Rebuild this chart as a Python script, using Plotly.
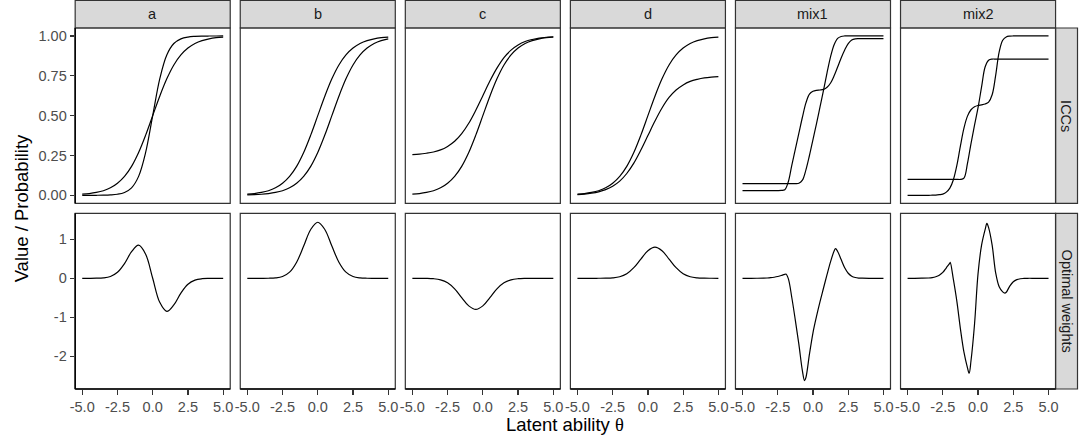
import plotly.graph_objects as go

# ---------------- data ----------------
item_labels = ["a", "b", "c", "d", "mix1", "mix2"]
row_labels = ["ICCs", "Optimal weights"]

theta_half = [-5.0, -4.5, -4.0, -3.5, -3.0, -2.5, -2.0, -1.5, -1.0, -0.5, 0.0,
              0.5, 1.0, 1.5, 2.0, 2.5, 3.0, 3.5, 4.0, 4.5, 5.0]
theta_quarter = [-5.0, -4.75, -4.5, -4.25, -4.0, -3.75, -3.5, -3.25, -3.0, -2.75,
                 -2.5, -2.25, -2.0, -1.75, -1.5, -1.25, -1.0, -0.75, -0.5, -0.25,
                 0.0, 0.25, 0.5, 0.75, 1.0, 1.25, 1.5, 1.75, 2.0, 2.25, 2.5, 2.75,
                 3.0, 3.25, 3.5, 3.75, 4.0, 4.25, 4.5, 4.75, 5.0]

icc_a_1 = [0.007, 0.011, 0.018, 0.029, 0.047, 0.076, 0.119, 0.182, 0.269, 0.378, 0.5,
           0.622, 0.731, 0.818, 0.881, 0.924, 0.953, 0.971, 0.982, 0.989, 0.993]
icc_a_2 = [0.0, 0.0001, 0.0003, 0.0009, 0.0025, 0.0067, 0.018, 0.047, 0.119, 0.269, 0.5,
           0.731, 0.881, 0.953, 0.982, 0.9933, 0.9975, 0.9991, 0.9997, 0.9999, 1.0]
icc_b_1 = [0.007, 0.011, 0.018, 0.029, 0.047, 0.076, 0.119, 0.182, 0.269, 0.378, 0.5,
           0.622, 0.731, 0.818, 0.881, 0.924, 0.953, 0.971, 0.982, 0.989, 0.993]
icc_b_2 = [0.0025, 0.0041, 0.0067, 0.011, 0.018, 0.029, 0.047, 0.076, 0.119, 0.182, 0.269,
           0.378, 0.5, 0.622, 0.731, 0.818, 0.881, 0.924, 0.953, 0.971, 0.982]
icc_c_1 = [0.255, 0.258, 0.264, 0.272, 0.285, 0.307, 0.339, 0.387, 0.452, 0.534, 0.625,
           0.717, 0.798, 0.864, 0.911, 0.943, 0.965, 0.978, 0.987, 0.992, 0.995]
icc_c_2 = [0.007, 0.011, 0.018, 0.029, 0.047, 0.076, 0.119, 0.182, 0.269, 0.378, 0.5,
           0.622, 0.731, 0.818, 0.881, 0.924, 0.953, 0.971, 0.982, 0.989, 0.993]
icc_d_1 = [0.007, 0.011, 0.018, 0.029, 0.047, 0.076, 0.119, 0.182, 0.269, 0.378, 0.5,
           0.622, 0.731, 0.818, 0.881, 0.924, 0.953, 0.971, 0.982, 0.989, 0.993]
icc_d_2 = [0.005, 0.008, 0.0135, 0.022, 0.0355, 0.057, 0.089, 0.137, 0.202, 0.284, 0.375,
           0.466, 0.548, 0.614, 0.661, 0.693, 0.715, 0.728, 0.737, 0.742, 0.745]

icc_mix1_1 = [0.03, 0.03, 0.03, 0.03, 0.03, 0.03, 0.03, 0.03, 0.03, 0.03,
              0.03, 0.031, 0.035, 0.085, 0.19, 0.29, 0.39, 0.49, 0.58, 0.635,
              0.653, 0.659, 0.661, 0.665, 0.678, 0.705, 0.75, 0.805, 0.862, 0.912,
              0.952, 0.975, 0.982, 0.983, 0.983, 0.983, 0.983, 0.983, 0.983, 0.983, 0.983]
icc_mix1_2 = [0.074, 0.074, 0.074, 0.074, 0.074, 0.074, 0.074, 0.074, 0.074, 0.074,
              0.074, 0.074, 0.074, 0.074, 0.074, 0.074, 0.076, 0.095, 0.16, 0.25,
              0.35, 0.45, 0.555, 0.66, 0.77, 0.87, 0.945, 0.985, 0.997, 1.0,
              1.0, 1.0, 1.0, 1.0, 1.0, 1.0, 1.0, 1.0, 1.0, 1.0, 1.0]
icc_mix2_1 = [0.0, 0.0, 0.0, 0.0, 0.0, 0.0, 0.0, 0.001, 0.0015, 0.004,
              0.008, 0.02, 0.045, 0.098, 0.189, 0.31, 0.422, 0.497, 0.537, 0.556,
              0.564, 0.568, 0.573, 0.585, 0.631, 0.753, 0.9, 0.973, 0.994, 0.999,
              1.0, 1.0, 1.0, 1.0, 1.0, 1.0, 1.0, 1.0, 1.0, 1.0, 1.0]
icc_mix2_2 = [0.1, 0.1, 0.1, 0.1, 0.1, 0.1, 0.1, 0.1, 0.1, 0.1,
              0.1, 0.1, 0.1, 0.1, 0.1, 0.1, 0.108, 0.2, 0.325, 0.44,
              0.55, 0.68, 0.805, 0.848, 0.855, 0.855, 0.855, 0.855, 0.855, 0.855,
              0.855, 0.855, 0.855, 0.855, 0.855, 0.855, 0.855, 0.855, 0.855, 0.855, 0.855]

w_a = [0.0, 0.0003, 0.002, 0.011, 0.047, 0.154, 0.379, 0.683, 0.85, 0.618, 0.0,
       -0.618, -0.85, -0.683, -0.379, -0.154, -0.047, -0.011, -0.002, -0.0003, 0.0]
w_b = [0.0, 0.0, 0.0002, 0.0016, 0.0098, 0.045, 0.157, 0.414, 0.827, 1.254, 1.44,
       1.254, 0.827, 0.414, 0.157, 0.045, 0.0098, 0.0016, 0.0002, 0.0, 0.0]
w_c = [0.0, -0.0004, -0.002, -0.011, -0.040, -0.117, -0.272, -0.495, -0.709, -0.80, -0.709,
       -0.495, -0.272, -0.117, -0.040, -0.011, -0.002, -0.0004, 0.0, 0.0, 0.0]
w_d = [0.0, 0.0, 0.0, 0.0004, 0.002, 0.011, 0.040, 0.117, 0.272, 0.495, 0.709,
       0.80, 0.709, 0.495, 0.272, 0.117, 0.040, 0.011, 0.002, 0.0004, 0.0]

theta_w_mix1 = [-5.0, -4.5, -4.0, -3.5, -3.25, -3.0, -2.75, -2.5, -2.25, -2.0,
                -1.92, -1.75, -1.5, -1.25, -1.0, -0.75, -0.6, -0.5, -0.25, 0.0,
                0.25, 0.5, 0.75, 1.0, 1.25, 1.5, 1.6, 1.75, 2.0, 2.25,
                2.5, 2.75, 3.0, 3.25, 3.5, 4.0, 4.5, 5.0]
w_mix1 = [0.0, 0.0, 0.001, 0.004, 0.008, 0.015, 0.027, 0.045, 0.072, 0.1,
          0.11, -0.01, -0.5, -1.08, -1.7, -2.38, -2.63, -2.55, -1.95, -1.4,
          -0.98, -0.6, -0.25, 0.1, 0.43, 0.7, 0.76, 0.69, 0.48, 0.27,
          0.13, 0.055, 0.02, 0.006, 0.002, 0.0, 0.0, 0.0]

theta_w_mix2 = [-5.0, -4.5, -4.0, -3.5, -3.25, -3.0, -2.75, -2.5, -2.25, -2.0,
                -1.97, -1.75, -1.5, -1.25, -1.0, -0.75, -0.63, -0.5, -0.25, 0.0,
                0.25, 0.5, 0.63, 0.75, 1.0, 1.25, 1.5, 1.75, 1.9, 2.0,
                2.25, 2.5, 2.75, 3.0, 3.25, 3.5, 4.0, 4.5, 5.0]
w_mix2 = [0.0, 0.0, 0.002, 0.008, 0.018, 0.04, 0.08, 0.15, 0.27, 0.39,
          0.41, -0.03, -0.6, -1.3, -1.9, -2.3, -2.44, -2.12, -1.18, 0.12,
          0.85, 1.25, 1.41, 1.3, 0.85, 0.14, -0.22, -0.35, -0.38, -0.36,
          -0.2, -0.09, -0.035, -0.012, -0.004, 0.0, 0.0, 0.0, 0.0]

x_tickvals = [-5, -2.5, 0, 2.5, 5]
x_ticktext = ["-5.0", "-2.5", "0.0", "2.5", "5.0"]
icc_tickvals = [0, 0.25, 0.5, 0.75, 1.0]
icc_ticktext = ["0.00", "0.25", "0.50", "0.75", "1.00"]
w_tickvals = [-2, -1, 0, 1]
w_ticktext = ["-2", "-1", "0", "1"]

# panel contents: (row, col) -> list of (theta, values)
panels = {
    (0, 0): [(theta_half, icc_a_1), (theta_half, icc_a_2)],
    (0, 1): [(theta_half, icc_b_1), (theta_half, icc_b_2)],
    (0, 2): [(theta_half, icc_c_1), (theta_half, icc_c_2)],
    (0, 3): [(theta_half, icc_d_1), (theta_half, icc_d_2)],
    (0, 4): [(theta_quarter, icc_mix1_1), (theta_quarter, icc_mix1_2)],
    (0, 5): [(theta_quarter, icc_mix2_1), (theta_quarter, icc_mix2_2)],
    (1, 0): [(theta_half, w_a)],
    (1, 1): [(theta_half, w_b)],
    (1, 2): [(theta_half, w_c)],
    (1, 3): [(theta_half, w_d)],
    (1, 4): [(theta_w_mix1, w_mix1)],
    (1, 5): [(theta_w_mix2, w_mix2)],
}

# ---------------- geometry (pixels) ----------------
W, H = 1081, 439
panel_w = 156.2
col_left = [70.7, 237.0, 403.3, 569.6, 735.9, 902.2]
row_top = [28.0, 213.3]
row_bot = [203.3, 389.0]
strip_top = 0.5
strip_right = 1080.5
y_ranges = [[-0.05, 1.05], [-2.845, 1.67]]
x_range = [-5.5, 5.5]

FONT = "Liberation Sans, Arial, sans-serif"
BORDER = "#333333"


def fx(px):
    return px / W


def fy(py):
    return 1 - py / H


fig = go.Figure()
layout = {}
shapes = []
annotations = []

for (r, c), series in panels.items():
    n = r * 6 + c + 1
    xs = "x" if n == 1 else f"x{n}"
    ys = "y" if n == 1 else f"y{n}"
    for th, vals in series:
        fig.add_trace(go.Scatter(
            x=th, y=vals, xaxis=xs, yaxis=ys, mode="lines",
            line=dict(color="black", width=1.2, shape="spline", smoothing=1.0),
            showlegend=False, hoverinfo="skip"))
    x0, x1 = col_left[c], col_left[c] + panel_w
    y0, y1 = row_top[r], row_bot[r]
    xkey = "xaxis" if n == 1 else f"xaxis{n}"
    ykey = "yaxis" if n == 1 else f"yaxis{n}"
    layout[xkey] = dict(
        domain=[fx(x0), fx(x1)], range=x_range, anchor=ys,
        showgrid=False, zeroline=False, showline=False,
        ticks="outside" if r == 1 else "", showticklabels=(r == 1),
        tickvals=x_tickvals, ticktext=x_ticktext, ticklen=4.5, tickwidth=1.2,
        tickcolor=BORDER, tickfont=dict(size=14.5, color="#4D4D4D", family=FONT),
        fixedrange=True)
    layout[ykey] = dict(
        domain=[fy(y1), fy(y0)], range=y_ranges[r], anchor=xs,
        showgrid=False, zeroline=False, showline=False,
        ticks="outside" if c == 0 else "", showticklabels=(c == 0),
        tickvals=icc_tickvals if r == 0 else w_tickvals,
        ticktext=icc_ticktext if r == 0 else w_ticktext,
        ticklen=4.5, tickwidth=1.2, tickcolor=BORDER,
        tickfont=dict(size=14.5, color="#4D4D4D", family=FONT),
        fixedrange=True)
    # panel border
    shapes.append(dict(type="rect", xref="paper", yref="paper",
                       x0=fx(x0), x1=fx(x1), y0=fy(y1), y1=fy(y0),
                       line=dict(color=BORDER, width=1.2), fillcolor="rgba(0,0,0,0)",
                       layer="above"))
    # axis lines
    if c == 0:
        shapes.append(dict(type="line", xref="paper", yref="paper",
                           x0=fx(x0), x1=fx(x0), y0=fy(y1), y1=fy(y0),
                           line=dict(color="black", width=1.5), layer="above"))
    if r == 1:
        shapes.append(dict(type="line", xref="paper", yref="paper",
                           x0=fx(x0), x1=fx(x1), y0=fy(y1), y1=fy(y1),
                           line=dict(color="black", width=1.5), layer="above"))

# column strips
for c, lab in enumerate(item_labels):
    x0, x1 = col_left[c], col_left[c] + panel_w
    shapes.append(dict(type="rect", xref="paper", yref="paper",
                       x0=fx(x0), x1=fx(x1), y0=fy(row_top[0]), y1=fy(strip_top),
                       line=dict(color=BORDER, width=1.2), fillcolor="#D9D9D9",
                       layer="below"))
    annotations.append(dict(xref="paper", yref="paper", x=fx((x0 + x1) / 2),
                            y=fy((strip_top + row_top[0]) / 2), text=lab,
                            showarrow=False, xanchor="center", yanchor="middle",
                            font=dict(size=14.5, color="#1A1A1A", family=FONT)))

# row strips
x_rs = col_left[5] + panel_w
for r, lab in enumerate(row_labels):
    shapes.append(dict(type="rect", xref="paper", yref="paper",
                       x0=fx(x_rs), x1=fx(strip_right), y0=fy(row_bot[r]), y1=fy(row_top[r]),
                       line=dict(color=BORDER, width=1.2), fillcolor="#D9D9D9",
                       layer="below"))
    annotations.append(dict(xref="paper", yref="paper", x=fx((x_rs + strip_right) / 2),
                            y=fy((row_top[r] + row_bot[r]) / 2), text=lab, textangle=90,
                            showarrow=False, xanchor="center", yanchor="middle",
                            font=dict(size=14.5, color="#1A1A1A", family=FONT)))

# axis titles
annotations.append(dict(xref="paper", yref="paper",
                        x=fx((col_left[0] + col_left[5] + panel_w) / 2), y=fy(424),
                        text="Latent ability <span style=\"font-family:'Liberation Serif', serif\">θ</span>",
                        showarrow=False, xanchor="center", yanchor="middle",
                        font=dict(size=18.5, color="black", family=FONT)))
annotations.append(dict(xref="paper", yref="paper", x=fx(17), y=fy((row_top[0] + row_bot[1]) / 2),
                        text="Value / Probability", textangle=-90,
                        showarrow=False, xanchor="center", yanchor="middle",
                        font=dict(size=18.5, color="black", family=FONT)))

fig.update_layout(
    width=W, height=H, margin=dict(l=0, r=0, t=0, b=0, pad=0),
    paper_bgcolor="white", plot_bgcolor="white",
    shapes=shapes, annotations=annotations, showlegend=False,
    hovermode=False, **layout)

fig.write_html("out.html", config={"displayModeBar": False, "staticPlot": True})
